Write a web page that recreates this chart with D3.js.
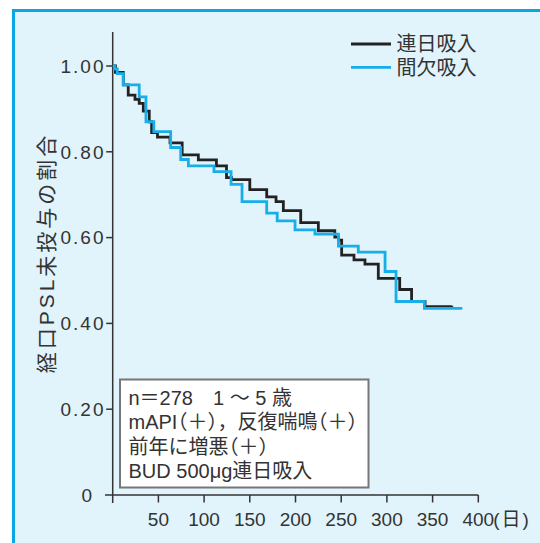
<!DOCTYPE html>
<html><head><meta charset="utf-8">
<script src="https://cdn.jsdelivr.net/npm/d3@7/dist/d3.min.js"></script>
<style>
html,body{margin:0;padding:0;background:#fff;}
text{font-family:"Liberation Sans","Noto Sans CJK JP",sans-serif;fill:#333;}
.note{font-feature-settings:"halt";}
.nohalt{font-feature-settings:normal;}
</style></head>
<body><svg id="c" width="540" height="543"></svg>
<script>
// ---- data ----
const xTicks = [50,100,150,200,250,300,350,400];
const yTicks = [0,0.2,0.4,0.6,0.8,1.0];
const yTickLabels = ["0","0.20","0.40","0.60","0.80","1.00"];
const seriesNames = ["連日吸入","間欠吸入"];
const dailyDays = [0,3,11.6,17,24.4,29,33.5,40,42.6,49,62.7,76,93.7,113.5,124.5,130,150,168.5,178.7,186.7,205.7,225,243,247,250.5,264,276,290.6,314,327,341.7,371];
const dailyVals = [1.00,0.985,0.956,0.932,0.922,0.913,0.895,0.870,0.845,0.834,0.821,0.793,0.781,0.767,0.740,0.735,0.712,0.695,0.684,0.663,0.635,0.616,0.601,0.594,0.559,0.548,0.538,0.505,0.479,0.451,0.439,0.441];
const interDays = [0,2,5,11.6,29,36.4,45,63.4,74.4,82.8,110.8,129.5,141.5,168.5,180,199.5,221.3,247,268.7,298,310,341,382.5];
const interVals = [1.00,0.993,0.982,0.956,0.928,0.870,0.847,0.810,0.782,0.767,0.754,0.724,0.684,0.657,0.639,0.618,0.608,0.580,0.566,0.521,0.451,0.435,0.435];
const yTitle = "経口PSL未投与の割合";
const xUnit = "(日)";
const noteLines = [["n＝278　1 ～ 5 歳"],["mAPI（＋）","，","反復喘鳴（＋）"],["前年に増悪（＋）"],["BUD 500μg連日吸入"]];

const svg = d3.select("#c");
// panel
svg.append("rect").attr("x",13.5).attr("y",10.5).attr("width",540).attr("height",545)
  .attr("fill","#e1f3fb").attr("stroke","#0aa6e4").attr("stroke-width",3);

const x = d3.scaleLinear().domain([0,400]).range([112.7,478.3]);
const y = d3.scaleLinear().domain([0,1]).range([495,66]);

const axisCol = "#333";
const g = svg.append("g");
g.append("line").attr("x1",x(0)).attr("x2",x(0)).attr("y1",32).attr("y2",503)
  .attr("stroke",axisCol).attr("stroke-width",1.5);
g.append("line").attr("x1",105).attr("x2",x(400)).attr("y1",y(0)).attr("y2",y(0))
  .attr("stroke",axisCol).attr("stroke-width",1.5);
yTicks.forEach((t,i)=>{
  if(t>0) g.append("line").attr("x1",x(0)-6.5).attr("x2",x(0)).attr("y1",y(t)).attr("y2",y(t))
    .attr("stroke",axisCol).attr("stroke-width",1.5);
  g.append("text").attr("x", t===0 ? 93 : 105.5).attr("y",y(t)).attr("dy","0.36em")
    .attr("text-anchor","end").attr("font-size",19).attr("letter-spacing",t===0?1:2)
    .text(yTickLabels[i]);
});
xTicks.forEach(t=>{
  g.append("line").attr("x1",x(t)).attr("x2",x(t)).attr("y1",y(0)).attr("y2",y(0)+7.5)
    .attr("stroke",axisCol).attr("stroke-width",1.5);
  g.append("text").attr("x",x(t)).attr("y",526).attr("text-anchor","middle")
    .attr("font-size",19).text(t);
});
g.append("text").attr("x",x(400)+15).attr("y",526).attr("font-size",19)
  .attr("letter-spacing",2).text(xUnit);

svg.append("text").attr("transform","translate(54,253) rotate(-90)")
  .attr("text-anchor","middle").attr("font-size",21).attr("letter-spacing",3).text(yTitle);

const line = d3.line().x(d=>x(d[0])).y(d=>y(d[1])).curve(d3.curveStepAfter);
const blueData = interDays.map((d,i)=>[d,interVals[i]]);
const blackData = dailyDays.map((d,i)=>[d,dailyVals[i]]);
svg.append("path").datum(blackData).attr("d",line).attr("fill","none")
  .attr("stroke","#222").attr("stroke-width",2.8);
svg.append("path").datum(blueData).attr("d",line).attr("fill","none")
  .attr("stroke","#17aee9").attr("stroke-width",2.8);

const legCols = ["#222","#17aee9"];
seriesNames.forEach((n,i)=>{
  const ly = 44 + i*23.3;
  svg.append("line").attr("x1",351).attr("x2",391).attr("y1",ly).attr("y2",ly)
    .attr("stroke",legCols[i]).attr("stroke-width",2.8);
  svg.append("text").attr("x",396.5).attr("y",ly).attr("dy","0.36em").attr("font-size",20).text(n);
});

svg.append("rect").attr("x",120).attr("y",379.5).attr("width",248.5).attr("height",108)
  .attr("fill","#fff").attr("stroke","#777").attr("stroke-width",2);
noteLines.forEach((parts,i)=>{
  const t = svg.append("text").attr("class","note").attr("x",128.5).attr("y",405+i*24.4).attr("font-size",20);
  parts.forEach(p=>{
    const s = t.append("tspan").text(p);
    if(p==="，") s.attr("class","nohalt");
  });
});
</script></body></html>
